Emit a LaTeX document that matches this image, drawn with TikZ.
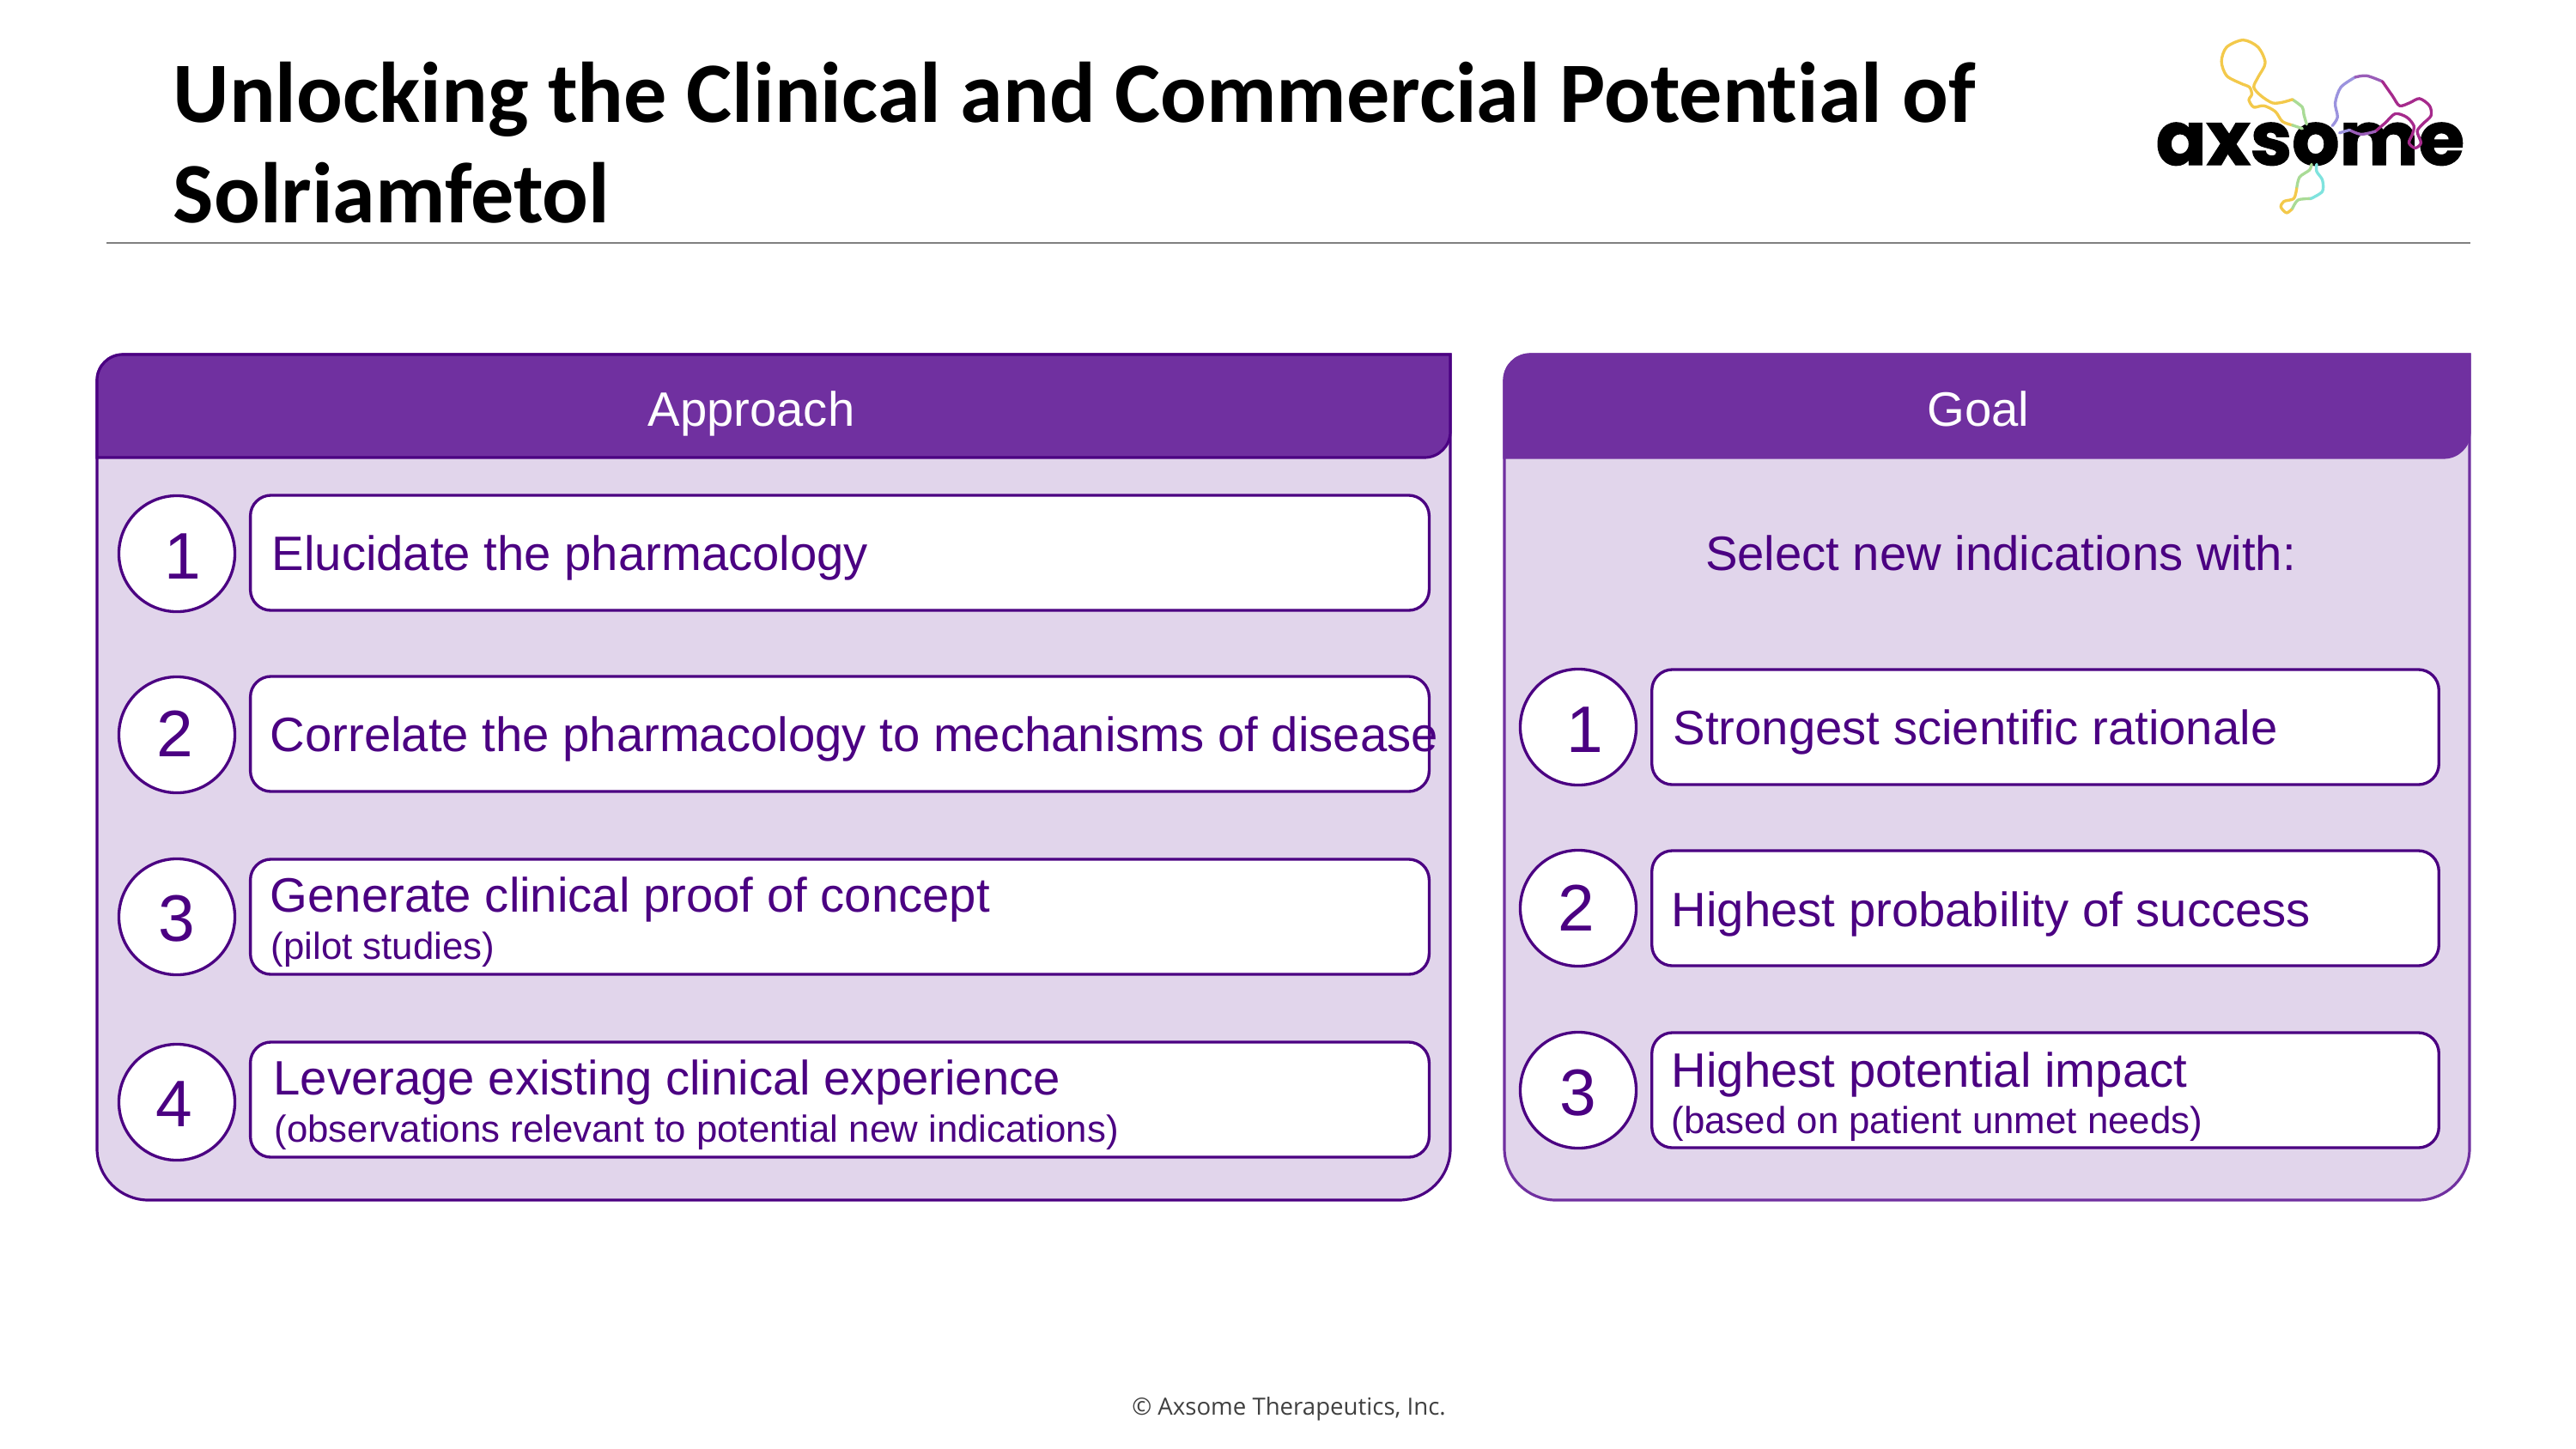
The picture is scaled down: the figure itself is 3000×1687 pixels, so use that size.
\documentclass[tikz,border=0pt]{standalone}
\usepackage{fontspec}
\setmainfont{Liberation Sans}
\newfontfamily\titlefont[Ligatures=NoCommon]{Carlito}
\newfontfamily\footfont{Open Sans}
\newfontfamily\logofont[FakeBold=1.5]{Poppins Bold}
\definecolor{darkpurple}{HTML}{4B0082}
\definecolor{headpurple}{HTML}{7030A0}
\definecolor{panelfill}{HTML}{E1D5EB}
\definecolor{logoyellow}{HTML}{F3C94B}
\definecolor{logogreen}{HTML}{A9DB96}
\definecolor{logoaqua}{HTML}{7FE3DE}
\definecolor{logoblue}{HTML}{9B93DE}
\definecolor{logoviolet}{HTML}{9A5DB8}
\definecolor{logomagenta}{HTML}{A62A8C}
\tikzset{
    bodytext/.style={anchor=base west,inner sep=0pt,text=darkpurple,font=\fontsize{16}{18}\selectfont},
    subtext/.style={anchor=base west,inner sep=0pt,text=darkpurple,font=\fontsize{12.45}{15}\selectfont},
    headtext/.style={anchor=base,inner sep=0pt,text=white,font=\fontsize{16}{18}\selectfont},
    digittext/.style={inner sep=0pt,text=darkpurple,font=\fontsize{21.8}{24}\selectfont},
    numcircle/.style={circle,draw=darkpurple,fill=white,line width=0.95pt,minimum size=1.35cm,inner sep=0pt},
    linebox/.style={rectangle,draw=darkpurple,fill=white,line width=0.95pt,rounded corners=0.24cm,inner sep=0pt,minimum height=1.34cm},
    logoline/.style={line width=0.95pt,line cap=round,line join=round}
}
\begin{document}
\begin{tikzpicture}[x=0.01cm,y=-0.01cm]
    \useasboundingbox (0,0) rectangle (3000,1687);
    % title and rule
    \node[anchor=base west,inner sep=0pt,font=\titlefont\bfseries\fontsize{28.5}{33}\selectfont] (title1) at (201,142) {Unlocking the Clinical and Commercial Potential of};
    \node[anchor=base west,inner sep=0pt,font=\titlefont\bfseries\fontsize{28.5}{33}\selectfont] (title2) at (201,259) {Solriamfetol};
    \coordinate (ruleL) at (124,283);
    \coordinate (ruleR) at (2877,283);
    \draw[gray,line width=0.6pt] (ruleL) -- (ruleR);
    % logo
    \node[anchor=base west,inner sep=0pt,font=\logofont\fontsize{24.7}{30}\selectfont] (logo) at (2510,192) {axsome};
    \begin{scope}[shift={(2450,20)},x=0.00333cm,y=-0.00333cm]
        \draw[logoline,logogreen] plot[smooth] coordinates {(710,375) (700,340) (695,315) (660,288)};
        \draw[logoline,logoyellow] plot[smooth] coordinates {(660,288) (625,298) (590,300) (550,275) (525,245) (540,210) (565,160) (540,105) (488,80) (430,105) (412,155) (430,205) (480,232) (510,245) (518,270) (508,290) (525,315) (560,310) (600,330) (625,365) (660,378)};
        \draw[logoline,logogreen] plot[smooth] coordinates {(660,378) (695,390)};
        \draw[logoline,logoblue] plot[smooth] coordinates {(800,380) (818,350) (810,300) (830,245) (880,210)};
        \draw[logoline,logoviolet] plot[smooth] coordinates {(880,210) (920,205) (975,225)};
        \draw[logoline,logomagenta] plot[smooth] coordinates {(975,225) (1010,275) (1035,310) (1070,300) (1105,285) (1140,310) (1145,345) (1115,375) (1097,400) (1110,440) (1090,458) (1068,440) (1080,410) (1085,380) (1060,350) (1020,338) (985,370) (950,400)};
        \draw[logoline,logoviolet] plot[smooth] coordinates {(950,400) (900,410) (860,395)};
        \draw[logoline,logoblue] plot[smooth] coordinates {(860,395) (825,405)};
        \draw[logoline,logogreen] plot[smooth] coordinates {(727,515) (720,535) (685,560) (675,600)};
        \draw[logoline,logoyellow] plot[smooth] coordinates {(675,600) (665,635) (630,645) (620,665) (640,685) (660,670)};
        \draw[logoline,logogreen] plot[smooth] coordinates {(660,670) (680,640) (725,635)};
        \draw[logoline,logoaqua] plot[smooth] coordinates {(725,635) (765,610) (765,570) (745,540) (745,515)};
    \end{scope}
    % approach panel
    \filldraw[fill=panelfill,draw=darkpurple,line width=0.9pt] (600,413) -- (1689,413) -- (1689,1000) [rounded corners=0.6cm] -- (1689,1398) -- (113,1398) -- (113,1000) [rounded corners=0.3cm] -- (113,413) -- (600,413);
    \filldraw[fill=headpurple,draw=darkpurple,line width=0.9pt] (600,413) -- (1689,413) [rounded corners=0.3cm] -- (1689,533) [sharp corners] -- (113,533) [rounded corners=0.3cm] -- (113,413) -- (600,413);
    \node[headtext] (approach) at (875,496) {Approach};
    \foreach \n/\y/\yb in {1/645/644,2/856/855,3/1068/1068,4/1284/1281} {
        \node[numcircle] (appcircle\n) at (206,\y) {};
        \node[linebox,minimum width=13.72cm] (appbox\n) at (978,\yb) {};
    }
    \node[digittext] (appnum1) at (213,648) {1};
    \node[digittext] (appnum2) at (204,855) {2};
    \node[digittext] (appnum3) at (206,1070) {3};
    \node[digittext] (appnum4) at (203,1286) {4};
    \node[bodytext] (apptext1) at (316,664) {Elucidate the pharmacology};
    \node[bodytext] (apptext2) at (314,875) {Correlate the pharmacology to mechanisms of disease};
    \node[bodytext] (apptext3) at (314,1062) {Generate clinical proof of concept};
    \node[subtext] (appsub3) at (315,1117) {(pilot studies)};
    \node[bodytext] (apptext4) at (318,1275) {Leverage existing clinical experience};
    \node[subtext] (appsub4) at (319,1330) {(observations relevant to potential new indications)};
    % goal panel
    \filldraw[fill=panelfill,draw=headpurple,line width=0.9pt] (2300,413) -- (2876,413) -- (2876,1000) [rounded corners=0.6cm] -- (2876,1398) -- (1752,1398) -- (1752,1000) [rounded corners=0.3cm] -- (1752,413) -- (2300,413);
    \filldraw[fill=headpurple,draw=headpurple,line width=0.9pt] (2300,413) -- (2876,413) [rounded corners=0.3cm] -- (2876,533) [sharp corners] -- (1752,533) [rounded corners=0.3cm] -- (1752,413) -- (2300,413);
    \node[headtext] (goal) at (2304,496) {Goal};
    \node[bodytext,anchor=base] (goalintro) at (2330,664) {Select new indications with:};
    \foreach \n/\y in {1/847,2/1058,3/1270} {
        \node[numcircle] (goalcircle\n) at (1838,\y) {};
        \node[linebox,minimum width=9.16cm] (goalbox\n) at (2382,\y) {};
    }
    \node[digittext] (goalnum1) at (1846,850) {1};
    \node[digittext] (goalnum2) at (1836,1058) {2};
    \node[digittext] (goalnum3) at (1838,1273) {3};
    \node[bodytext] (goaltext1) at (1948,867) {Strongest scientific rationale};
    \node[bodytext] (goaltext2) at (1946,1079) {Highest probability of success};
    \node[bodytext] (goaltext3) at (1946,1266) {Highest potential impact};
    \node[subtext] (goalsub3) at (1946,1320) {(based on patient unmet needs)};
    % footer
    \node[inner sep=0pt,text=black!75,font=\footfont\fontsize{7.85}{10}\selectfont] (footer) at (1501,1641) {© Axsome Therapeutics, Inc.};
\end{tikzpicture}
\end{document}
